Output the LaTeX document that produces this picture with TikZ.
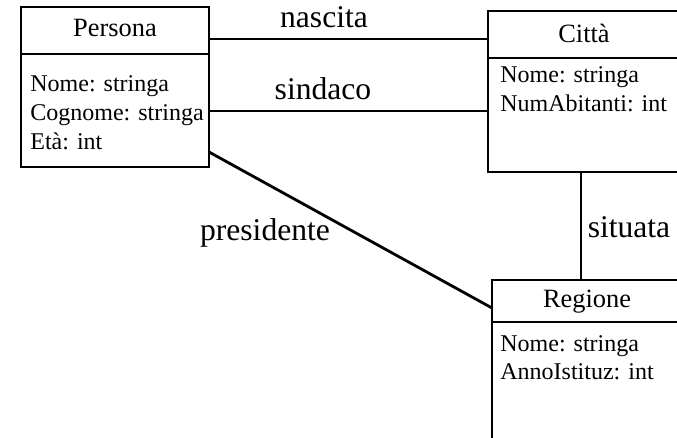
\documentclass[tikz,border=0pt]{standalone}
\usepackage{fontspec}
\setmainfont{Liberation Serif}
\begin{document}
\begin{tikzpicture}[x=0.5pt,y=-0.5pt,
  classbox/.style={draw,line width=1.4pt,inner sep=0pt,outer sep=0pt,rectangle},
  link/.style={line width=1.4pt},
  cname/.style={font=\fontsize{13.2}{15}\selectfont,anchor=base,inner sep=0pt},
  attr/.style={font=\fontsize{12}{14}\selectfont,anchor=base west,inner sep=0pt},
  lbl/.style={font=\fontsize{15.8}{18}\selectfont,anchor=base,inner sep=0pt}]
\useasboundingbox (0,0) rectangle (677,438);
\clip (0,0) rectangle (677,438);
% boxes
\node[classbox,minimum width=94pt,minimum height=80pt] (persona) at (115,87) {};
\node[classbox,minimum width=96pt,minimum height=80.5pt] (citta) at (584,91.5) {};
\node[classbox,minimum width=95pt,minimum height=95pt] (regione) at (587,375) {};
% dividers
\draw[link] (persona.west |- 0,54) -- (persona.east |- 0,54);
\draw[link] (citta.west |- 0,58) -- (citta.east |- 0,58);
\draw[link] (regione.west |- 0,322) -- (regione.east |- 0,322);
% names
\node[cname] (pn) at (115,37) {Persona};
\node[cname] (cn) at (584,43) {Città};
\node[cname] (rn) at (587,308) {Regione};
% attributes
\node[attr] (pa1) at (30,92) {Nome: stringa};
\node[attr] (pa2) at (30,121) {Cognome: stringa};
\node[attr] (pa3) at (30,150) {Età: int};
\node[attr] (ca1) at (500,83) {Nome: stringa};
\node[attr] (ca2) at (500,112) {NumAbitanti: int};
\node[attr] (ra1) at (500,352) {Nome: stringa};
\node[attr] (ra2) at (500,380) {AnnoIstituz: int};
% connectors
\draw[link] (persona.east |- 0,39) -- (citta.west |- 0,39);
\draw[link] (persona.east |- 0,111) -- (citta.west |- 0,111);
\draw[link] (persona.east |- 0,152) -- (regione.west |- 0,308);
\draw[link] (citta.south -| 581,0) -- (regione.north -| 581,0);
% labels
\node[lbl] (l1) at (324,28) {nascita};
\node[lbl] (l2) at (323,100) {sindaco};
\node[lbl] (l3) at (265,241) {presidente};
\node[lbl] (l4) at (629,238) {situata};
\end{tikzpicture}
\end{document}
